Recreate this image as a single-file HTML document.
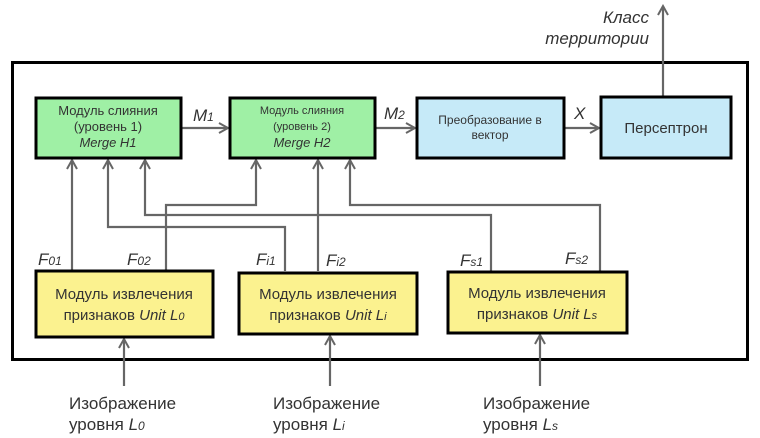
<!DOCTYPE html>
<html><head><meta charset="utf-8"><style>
html,body{margin:0;padding:0;background:#fff;}
svg{display:block;font-family:"Liberation Sans",sans-serif;}
</style></head><body>
<svg width="760" height="438" viewBox="0 0 760 438" xmlns="http://www.w3.org/2000/svg">
<defs>
<marker id="a" markerWidth="12" markerHeight="12" refX="10" refY="6" orient="auto" markerUnits="userSpaceOnUse">
<path d="M1,1 L10,6 L1,11" fill="none" stroke="#666" stroke-width="2"/>
</marker>
</defs>
<rect x="12.5" y="62.5" width="735" height="297" fill="#fff" stroke="#000" stroke-width="3"/>
<g fill="none" stroke="#666" stroke-width="2.2">
<path d="M181,128 H228" marker-end="url(#a)"/>
<path d="M375,128 H415" marker-end="url(#a)"/>
<path d="M564,128 H599" marker-end="url(#a)"/>
<path d="M663,96 V6" marker-end="url(#a)"/>
<path d="M72,270 V160" marker-end="url(#a)"/>
<path d="M285,271 V227 H108 V160" marker-end="url(#a)"/>
<path d="M491,271 V215 H145 V160" marker-end="url(#a)"/>
<path d="M166,270 V205 H256 V160" marker-end="url(#a)"/>
<path d="M318,271 V160" marker-end="url(#a)"/>
<path d="M600,271 V205 H350 V160" marker-end="url(#a)"/>
<path d="M124,386 V339" marker-end="url(#a)"/>
<path d="M330,386 V336" marker-end="url(#a)"/>
<path d="M540,386 V335" marker-end="url(#a)"/>
</g>
<g stroke="#000" stroke-width="3">
<rect x="36" y="98" width="145" height="60" fill="#9ff0a5"/>
<rect x="230" y="98" width="145" height="60" fill="#9ff0a5"/>
<rect x="417" y="98" width="147" height="60" fill="#c6eaf8"/>
<rect x="601" y="97" width="130" height="61" fill="#c6eaf8"/>
<rect x="36" y="271" width="177" height="66" fill="#fbf28f"/>
<rect x="239" y="273" width="178" height="61" fill="#fbf28f"/>
<rect x="448" y="272" width="179" height="61" fill="#fbf28f"/>
</g>
<g fill="#333" text-anchor="middle" font-size="13">
<text x="108" y="115">Модуль слияния</text>
<text x="108" y="131">(уровень 1)</text>
<text x="108" y="147" font-style="italic">Merge H1</text>
<text x="302" y="114" font-size="11">Модуль слияния</text>
<text x="302" y="130" font-size="11">(уровень 2)</text>
<text x="302" y="147" font-style="italic">Merge H2</text>
<text x="490" y="124" font-size="12">Преобразование в</text>
<text x="490" y="139" font-size="12">вектор</text>
<text x="666" y="133" font-size="15">Персептрон</text>
<text x="124" y="299" font-size="15">Модуль извлечения</text>
<text x="124" y="320" font-size="15">признаков <tspan font-style="italic">Unit L<tspan font-size="11">0</tspan></tspan></text>
<text x="328" y="299" font-size="15">Модуль извлечения</text>
<text x="328" y="320" font-size="15">признаков <tspan font-style="italic">Unit L<tspan font-size="11">i</tspan></tspan></text>
<text x="537" y="298" font-size="15">Модуль извлечения</text>
<text x="537" y="319" font-size="15">признаков <tspan font-style="italic">Unit L<tspan font-size="11">s</tspan></tspan></text>
</g>
<g fill="#333" font-size="17" font-style="italic">
<text x="193" y="121">M<tspan font-size="12">1</tspan></text>
<text x="384" y="119">M<tspan font-size="12">2</tspan></text>
<text x="574" y="119">X</text>
<text x="38" y="265">F<tspan font-size="12">01</tspan></text>
<text x="127" y="265">F<tspan font-size="12">02</tspan></text>
<text x="256" y="265">F<tspan font-size="12">i1</tspan></text>
<text x="326" y="266">F<tspan font-size="12">i2</tspan></text>
<text x="460" y="266">F<tspan font-size="12">s1</tspan></text>
<text x="565" y="264">F<tspan font-size="12">s2</tspan></text>
<text x="649" y="23" text-anchor="end">Класс</text>
<text x="649" y="44" text-anchor="end">территории</text>
</g>
<g fill="#333" font-size="17">
<text x="69" y="409">Изображение</text>
<text x="69" y="430">уровня <tspan font-style="italic">L<tspan font-size="12">0</tspan></tspan></text>
<text x="273" y="409">Изображение</text>
<text x="273" y="430">уровня <tspan font-style="italic">L<tspan font-size="12">i</tspan></tspan></text>
<text x="483" y="409">Изображение</text>
<text x="483" y="430">уровня <tspan font-style="italic">L<tspan font-size="12">s</tspan></tspan></text>
</g>
</svg>
</body></html>
